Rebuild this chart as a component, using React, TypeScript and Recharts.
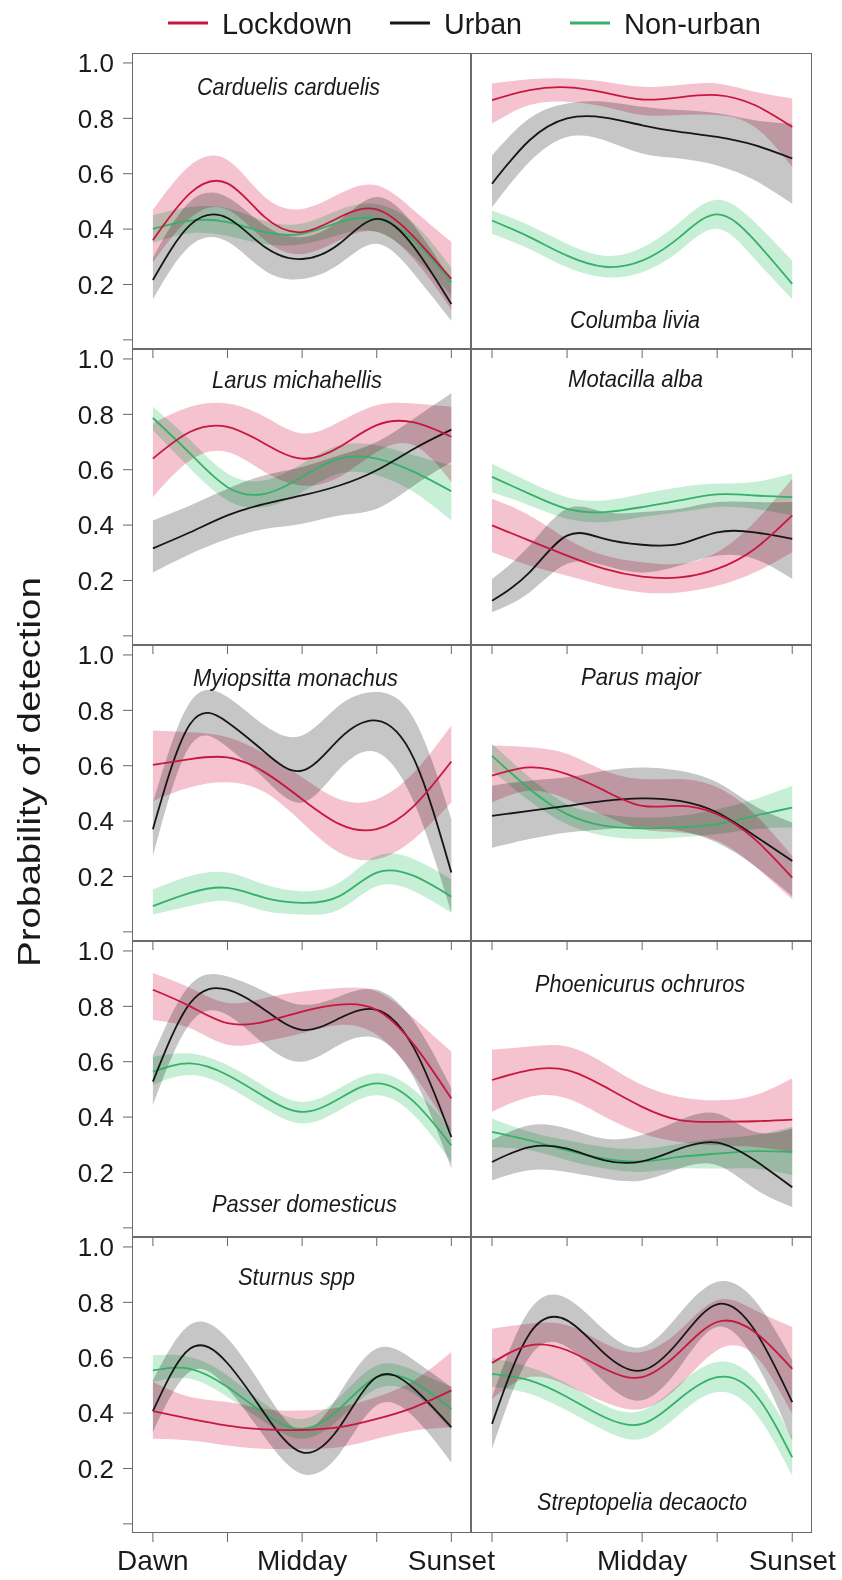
import { ComposedChart, Area, Line, XAxis, YAxis } from 'recharts'

// time of day: 0 = Dawn, 2 = Midday, 4 = Sunset
const HOURS = [0, 0.5, 1, 1.5, 2, 2.5, 3, 3.5, 4]
const X_TICKS = [0, 1, 2, 3, 4]
const X_LABELS_LEFT = ['Dawn', '', 'Midday', '', 'Sunset']
const X_LABELS_RIGHT = ['', '', 'Midday', '', 'Sunset']
const Y_TICKS = [0, 0.2, 0.4, 0.6, 0.8, 1.0]

// each point: [lower CI, fit, upper CI]
type Pt = [number, number, number]
type Species = { name: string; lockdown: Pt[]; urban: Pt[]; nonUrban: Pt[] }

const carduelis: Species = {
  name: 'Carduelis carduelis',
  lockdown: [[0.28, 0.36, 0.47], [0.44, 0.53, 0.63], [0.47, 0.565, 0.65], [0.36, 0.443, 0.516], [0.31, 0.389, 0.473], [0.36, 0.443, 0.528], [0.39, 0.471, 0.558], [0.29, 0.371, 0.467], [0.11, 0.22, 0.353]],
  urban: [[0.147, 0.216, 0.298], [0.34, 0.415, 0.5], [0.355, 0.44, 0.515], [0.25, 0.335, 0.413], [0.22, 0.292, 0.371], [0.274, 0.347, 0.431], [0.347, 0.437, 0.516], [0.238, 0.335, 0.413], [0.069, 0.129, 0.214]],
  nonUrban: [[0.35, 0.401, 0.45], [0.385, 0.431, 0.48], [0.375, 0.425, 0.475], [0.345, 0.389, 0.43], [0.345, 0.383, 0.42], [0.38, 0.425, 0.47], [0.39, 0.437, 0.49], [0.3, 0.359, 0.42], [0.16, 0.208, 0.26]],
}

const columba: Species = {
  name: 'Columba livia',
  lockdown: [[0.781, 0.866, 0.926], [0.848, 0.902, 0.941], [0.86, 0.912, 0.944], [0.842, 0.893, 0.932], [0.812, 0.868, 0.914], [0.812, 0.876, 0.92], [0.812, 0.884, 0.926], [0.769, 0.848, 0.896], [0.624, 0.769, 0.872]],
  urban: [[0.479, 0.564, 0.667], [0.643, 0.721, 0.8], [0.733, 0.8, 0.854], [0.721, 0.803, 0.86], [0.673, 0.775, 0.842], [0.655, 0.751, 0.83], [0.63, 0.733, 0.818], [0.576, 0.703, 0.793], [0.492, 0.655, 0.781]],
  nonUrban: [[0.383, 0.431, 0.467], [0.328, 0.371, 0.413], [0.262, 0.304, 0.347], [0.226, 0.264, 0.304], [0.244, 0.286, 0.333], [0.322, 0.371, 0.425], [0.401, 0.453, 0.506], [0.292, 0.359, 0.425], [0.147, 0.202, 0.286]],
}

const larus: Species = {
  name: 'Larus michahellis',
  lockdown: [[0.501, 0.64, 0.767], [0.634, 0.737, 0.827], [0.664, 0.755, 0.839], [0.592, 0.694, 0.791], [0.543, 0.64, 0.731], [0.574, 0.682, 0.773], [0.664, 0.761, 0.833], [0.688, 0.771, 0.839], [0.556, 0.719, 0.827]],
  urban: [[0.229, 0.316, 0.417], [0.296, 0.374, 0.471], [0.35, 0.435, 0.531], [0.386, 0.477, 0.58], [0.405, 0.507, 0.61], [0.435, 0.543, 0.652], [0.459, 0.598, 0.7], [0.543, 0.676, 0.785], [0.628, 0.745, 0.876]],
  nonUrban: [[0.743, 0.787, 0.827], [0.604, 0.658, 0.707], [0.489, 0.537, 0.586], [0.465, 0.513, 0.562], [0.519, 0.574, 0.622], [0.586, 0.64, 0.688], [0.58, 0.64, 0.688], [0.519, 0.592, 0.652], [0.417, 0.522, 0.616]],
}

const motacilla: Species = {
  name: 'Motacilla alba',
  lockdown: [[0.302, 0.399, 0.495], [0.254, 0.344, 0.435], [0.217, 0.29, 0.35], [0.181, 0.242, 0.29], [0.157, 0.214, 0.266], [0.157, 0.211, 0.26], [0.181, 0.242, 0.302], [0.229, 0.314, 0.411], [0.302, 0.435, 0.568]],
  urban: [[0.085, 0.127, 0.205], [0.157, 0.229, 0.326], [0.26, 0.362, 0.459], [0.254, 0.35, 0.447], [0.229, 0.329, 0.447], [0.254, 0.332, 0.459], [0.29, 0.374, 0.483], [0.278, 0.374, 0.483], [0.205, 0.35, 0.483]],
  nonUrban: [[0.519, 0.574, 0.622], [0.471, 0.513, 0.556], [0.423, 0.459, 0.501], [0.411, 0.447, 0.489], [0.429, 0.465, 0.513], [0.447, 0.489, 0.537], [0.465, 0.511, 0.55], [0.459, 0.507, 0.556], [0.435, 0.501, 0.586]],
}

const myiopsitta: Species = {
  name: 'Myiopsitta monachus',
  lockdown: [[0.473, 0.603, 0.727], [0.522, 0.624, 0.721], [0.54, 0.63, 0.703], [0.504, 0.576, 0.643], [0.395, 0.479, 0.558], [0.286, 0.389, 0.479], [0.262, 0.371, 0.479], [0.335, 0.455, 0.576], [0.467, 0.615, 0.745]],
  urban: [[0.274, 0.371, 0.467], [0.673, 0.751, 0.83], [0.667, 0.757, 0.848], [0.552, 0.649, 0.745], [0.467, 0.582, 0.709], [0.588, 0.697, 0.818], [0.649, 0.763, 0.866], [0.467, 0.624, 0.769], [0.069, 0.214, 0.407]],
  nonUrban: [[0.063, 0.093, 0.153], [0.093, 0.141, 0.202], [0.111, 0.159, 0.214], [0.075, 0.123, 0.171], [0.063, 0.105, 0.147], [0.081, 0.129, 0.178], [0.165, 0.214, 0.274], [0.147, 0.202, 0.262], [0.069, 0.127, 0.19]],
}

const parus: Species = {
  name: 'Parus major',
  lockdown: [[0.467, 0.564, 0.673], [0.51, 0.594, 0.667], [0.479, 0.57, 0.643], [0.42, 0.51, 0.582], [0.371, 0.455, 0.552], [0.359, 0.455, 0.552], [0.329, 0.425, 0.522], [0.238, 0.335, 0.425], [0.117, 0.196, 0.274]],
  urban: [[0.304, 0.419, 0.528], [0.335, 0.437, 0.546], [0.359, 0.455, 0.558], [0.371, 0.473, 0.582], [0.377, 0.482, 0.594], [0.365, 0.473, 0.582], [0.322, 0.431, 0.54], [0.238, 0.347, 0.455], [0.129, 0.256, 0.395]],
  nonUrban: [[0.582, 0.636, 0.679], [0.473, 0.516, 0.558], [0.389, 0.425, 0.461], [0.347, 0.383, 0.425], [0.335, 0.374, 0.413], [0.341, 0.377, 0.419], [0.353, 0.389, 0.443], [0.371, 0.419, 0.479], [0.377, 0.449, 0.528]],
}

const passer: Species = {
  name: 'Passer domesticus',
  lockdown: [[0.751, 0.86, 0.92], [0.721, 0.8, 0.866], [0.661, 0.739, 0.812], [0.673, 0.745, 0.83], [0.703, 0.781, 0.854], [0.733, 0.806, 0.866], [0.697, 0.787, 0.854], [0.552, 0.661, 0.757], [0.347, 0.467, 0.636]],
  urban: [[0.443, 0.528, 0.624], [0.739, 0.812, 0.878], [0.769, 0.86, 0.908], [0.661, 0.787, 0.854], [0.6, 0.715, 0.806], [0.661, 0.757, 0.836], [0.685, 0.787, 0.86], [0.54, 0.649, 0.745], [0.214, 0.328, 0.504]],
  nonUrban: [[0.516, 0.564, 0.618], [0.552, 0.594, 0.63], [0.51, 0.552, 0.588], [0.431, 0.473, 0.51], [0.377, 0.419, 0.455], [0.425, 0.467, 0.504], [0.479, 0.522, 0.558], [0.407, 0.455, 0.498], [0.238, 0.298, 0.359]],
}

const phoenicurus: Species = {
  name: 'Phoenicurus ochruros',
  lockdown: [[0.419, 0.534, 0.643], [0.473, 0.57, 0.655], [0.467, 0.57, 0.655], [0.401, 0.51, 0.594], [0.341, 0.437, 0.516], [0.31, 0.389, 0.473], [0.298, 0.383, 0.461], [0.292, 0.385, 0.479], [0.274, 0.391, 0.54]],
  urban: [[0.171, 0.238, 0.316], [0.208, 0.292, 0.371], [0.202, 0.286, 0.359], [0.178, 0.244, 0.322], [0.171, 0.24, 0.335], [0.214, 0.286, 0.389], [0.226, 0.308, 0.413], [0.141, 0.244, 0.347], [0.075, 0.147, 0.359]],
  nonUrban: [[0.292, 0.347, 0.395], [0.28, 0.316, 0.347], [0.244, 0.28, 0.316], [0.214, 0.25, 0.292], [0.202, 0.24, 0.286], [0.214, 0.256, 0.304], [0.214, 0.268, 0.322], [0.214, 0.277, 0.335], [0.19, 0.274, 0.365]],
}

const sturnus: Species = {
  name: 'Sturnus spp',
  lockdown: [[0.307, 0.407, 0.512], [0.301, 0.379, 0.458], [0.283, 0.355, 0.44], [0.271, 0.341, 0.415], [0.271, 0.339, 0.409], [0.277, 0.349, 0.421], [0.307, 0.379, 0.458], [0.337, 0.421, 0.518], [0.349, 0.482, 0.621]],
  urban: [[0.331, 0.407, 0.518], [0.55, 0.633, 0.72], [0.49, 0.58, 0.67], [0.313, 0.397, 0.482], [0.18, 0.258, 0.337], [0.252, 0.349, 0.47], [0.428, 0.53, 0.633], [0.385, 0.488, 0.591], [0.222, 0.349, 0.494]],
  nonUrban: [[0.512, 0.554, 0.609], [0.524, 0.56, 0.603], [0.458, 0.494, 0.536], [0.367, 0.397, 0.433], [0.307, 0.343, 0.379], [0.379, 0.415, 0.458], [0.488, 0.53, 0.572], [0.47, 0.512, 0.554], [0.337, 0.415, 0.494]],
}

const streptopelia: Species = {
  name: 'Streptopelia decaocto',
  lockdown: [[0.452, 0.581, 0.705], [0.53, 0.645, 0.723], [0.5, 0.627, 0.717], [0.44, 0.56, 0.651], [0.415, 0.53, 0.621], [0.5, 0.621, 0.699], [0.627, 0.729, 0.808], [0.609, 0.693, 0.772], [0.397, 0.56, 0.711]],
  urban: [[0.271, 0.361, 0.458], [0.603, 0.687, 0.772], [0.639, 0.735, 0.814], [0.512, 0.615, 0.699], [0.446, 0.554, 0.639], [0.566, 0.663, 0.76], [0.711, 0.793, 0.874], [0.591, 0.699, 0.808], [0.301, 0.44, 0.591]],
  nonUrban: [[0.494, 0.542, 0.6], [0.47, 0.518, 0.566], [0.409, 0.458, 0.506], [0.337, 0.385, 0.428], [0.307, 0.361, 0.409], [0.397, 0.452, 0.506], [0.476, 0.53, 0.585], [0.403, 0.47, 0.524], [0.174, 0.24, 0.313]],
}

// panel order: row by row, left then right
const PANELS = [carduelis, columba, larus, motacilla, myiopsitta, parus, passer, phoenicurus, sturnus, streptopelia]

// species label placement: [x start, baseline, text length]
const LABEL_POS: [number, number, number][] = [
  [197, 95, 183], [570, 328, 130],
  [212, 388, 170], [568, 387, 135],
  [193, 686, 205], [581, 685, 120],
  [212, 1212, 185], [535, 992, 210],
  [238, 1285, 117], [537, 1510, 210],
]

const COLORS = { lockdown: '#c8173f', urban: '#161616', nonUrban: '#36b06a' }
const BANDS = { lockdown: '#f4c3cf', urban: '#c6c6c6', nonUrban: '#c7efd5' }

const FONT = '"Liberation Sans", Arial, sans-serif'
const ROW_TOPS = [53, 349, 645, 941, 1237]
const PANEL_H = 296
const TOP_PAD = 16
const X_DOMAIN: [number, number] = [-0.28, 4.25]
const Y_DOMAIN: [number, number] = [-0.033, 1.036]

function toRows(s: Species) {
  return HOURS.map((t, i) => ({
    t,
    lockdown: s.lockdown[i][1],
    lockdownBand: [s.lockdown[i][0], s.lockdown[i][2]],
    urban: s.urban[i][1],
    urbanBand: [s.urban[i][0], s.urban[i][2]],
    nonUrban: s.nonUrban[i][1],
    nonUrbanBand: [s.nonUrban[i][0], s.nonUrban[i][2]],
  }))
}

function Panel({ species, row, col }: { species: Species; row: number; col: number }) {
  const isBottom = row === ROW_TOPS.length - 1
  const axisH = isBottom ? 50 : 12
  const left = col === 0 ? 0 : 471
  const plotW = col === 0 ? 338 : 340
  const yAxisW = col === 0 ? 132 : 0
  const rightPad = 45
  const labels = col === 0 ? X_LABELS_LEFT : X_LABELS_RIGHT
  const keys = ['lockdown', 'urban', 'nonUrban'] as const

  return (
    <div style={{ position: 'absolute', left, top: ROW_TOPS[row] - TOP_PAD }}>
      <ComposedChart
        width={yAxisW + plotW + rightPad}
        height={PANEL_H + axisH + TOP_PAD}
        data={toRows(species)}
        margin={{ top: TOP_PAD, right: rightPad, bottom: 0, left: 0 }}
      >
        <XAxis
          dataKey="t"
          type="number"
          domain={X_DOMAIN}
          allowDataOverflow
          ticks={X_TICKS}
          interval={0}
          height={axisH}
          axisLine={false}
          tickLine={{ stroke: '#666' }}
          tickSize={9}
          tickMargin={8}
          tick={{ fontSize: 28, fill: '#1a1a1a', fontFamily: FONT }}
          tickFormatter={(_v: number, i: number) => (isBottom ? labels[i] : '')}
        />
        <YAxis
          type="number"
          domain={Y_DOMAIN}
          allowDataOverflow
          ticks={Y_TICKS}
          interval={0}
          width={yAxisW}
          hide={col !== 0}
          axisLine={false}
          tickLine={{ stroke: '#666' }}
          tickSize={9}
          tickMargin={9}
          tick={{ fontSize: 26, fill: '#1a1a1a', fontFamily: FONT }}
          tickFormatter={(v: number) => (v === 0 ? '' : v.toFixed(1))}
        />
        {keys.map((k) => (
          <Area
            key={k + 'Band'}
            className="band"
            dataKey={k + 'Band'}
            type="natural"
            stroke="none"
            fill={BANDS[k]}
            fillOpacity={1}
            activeDot={false}
            isAnimationActive={false}
          />
        ))}
        {['nonUrban', 'urban', 'lockdown'].map((k) => (
          <Line
            key={k}
            dataKey={k}
            type="natural"
            stroke={COLORS[k as keyof typeof COLORS]}
            strokeWidth={1.8}
            dot={false}
            activeDot={false}
            isAnimationActive={false}
          />
        ))}
      </ComposedChart>
    </div>
  )
}

const LEGEND = [
  { label: 'Lockdown', color: COLORS.lockdown, x: 168, len: 130 },
  { label: 'Urban', color: COLORS.urban, x: 390, len: 78 },
  { label: 'Non-urban', color: COLORS.nonUrban, x: 570, len: 137 },
]

export default function App() {
  return (
    <div style={{ position: 'absolute', left: 0, top: 0, width: 842, height: 1580, background: '#fff', overflow: 'hidden' }}>
      <style>{`.band { mix-blend-mode: multiply; }`}</style>
      {PANELS.map((s, i) => (
        <Panel key={s.name} species={s} row={Math.floor(i / 2)} col={i % 2} />
      ))}
      {ROW_TOPS.map((top) => (
        <div key={top}>
          <div style={{ position: 'absolute', left: 132, top, width: 339, height: PANEL_H, border: '1px solid #6a6a6a', boxSizing: 'border-box' }} />
          <div style={{ position: 'absolute', left: 471, top, width: 341, height: PANEL_H, border: '1px solid #6a6a6a', boxSizing: 'border-box' }} />
        </div>
      ))}
      <svg width={842} height={1580} style={{ position: 'absolute', left: 0, top: 0, pointerEvents: 'none' }}>
        {LEGEND.map((l) => (
          <g key={l.label}>
            <line x1={l.x} x2={l.x + 40} y1={23} y2={23} stroke={l.color} strokeWidth={3} />
            <text
              x={l.x + 54}
              y={34}
              fontSize={29}
              fontFamily={FONT}
              fill="#1a1a1a"
              textLength={l.len}
              lengthAdjust="spacingAndGlyphs"
            >
              {l.label}
            </text>
          </g>
        ))}
        <text
          transform="translate(40,772) rotate(-90)"
          textAnchor="middle"
          fontSize={32}
          fontFamily={FONT}
          fill="#1a1a1a"
          textLength={390}
          lengthAdjust="spacingAndGlyphs"
        >
          Probability of detection
        </text>
        {PANELS.map((s, i) => (
          <text
            key={s.name}
            x={LABEL_POS[i][0]}
            y={LABEL_POS[i][1]}
            fontSize={24}
            fontStyle="italic"
            fontFamily={FONT}
            fill="#1a1a1a"
            textLength={LABEL_POS[i][2]}
            lengthAdjust="spacingAndGlyphs"
          >
            {s.name}
          </text>
        ))}
      </svg>
    </div>
  )
}
